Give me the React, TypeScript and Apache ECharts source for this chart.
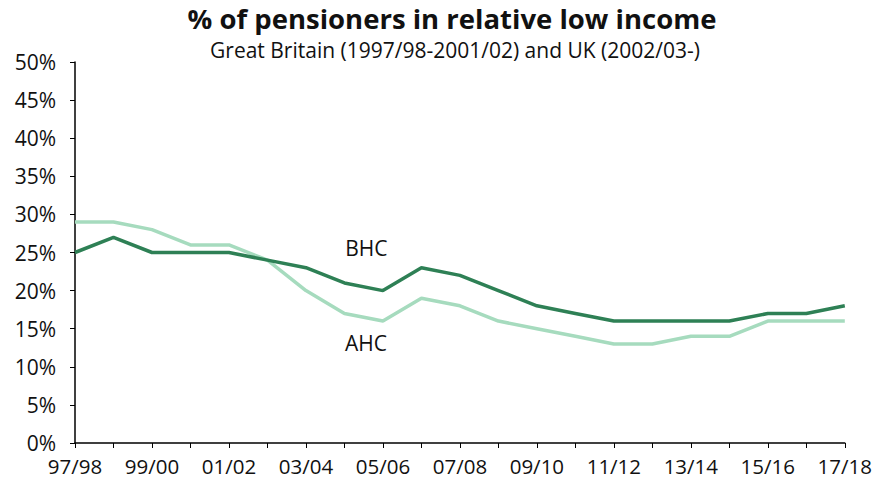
import React, { useEffect, useRef } from "react";
import * as echarts from "echarts";

const categories = [
  "97/98", "98/99", "99/00", "00/01", "01/02", "02/03", "03/04", "04/05", "05/06", "06/07",
  "07/08", "08/09", "09/10", "10/11", "11/12", "12/13", "13/14", "14/15", "15/16", "16/17", "17/18",
];
const bhc = [25, 27, 25, 25, 25, 24, 23, 21, 20, 23, 22, 20, 18, 17, 16, 16, 16, 16, 17, 17, 18];
const ahc = [29, 29, 28, 26, 26, 24, 20, 17, 16, 19, 18, 16, 15, 14, 13, 13, 14, 14, 16, 16, 16];
const yTicks = [0, 5, 10, 15, 20, 25, 30, 35, 40, 45, 50];

const FONT = "'Open Sans', 'Noto Sans', sans-serif";

export default function App() {
  const ref = useRef<HTMLDivElement>(null);
  useEffect(() => {
    if (!ref.current) return;
    const chart = echarts.init(ref.current, null, { renderer: "svg" });
    chart.setOption({
      animation: false,
      backgroundColor: "#ffffff",
      textStyle: { fontFamily: FONT },
      title: [
        {
          text: "% of pensioners in relative low income",
          left: 452,
          textAlign: "center",
          top: 0,
          padding: 0,
          textStyle: { fontFamily: FONT, fontSize: 27.5, fontWeight: "bold", color: "#111", lineHeight: 36 },
        },
        {
          text: "Great Britain (1997/98-2001/02) and UK (2002/03-)",
          left: 455,
          textAlign: "center",
          top: 38,
          padding: 0,
          textStyle: { fontFamily: FONT, fontSize: 21, fontWeight: "normal", color: "#111", lineHeight: 24 },
        },
      ],
      grid: { left: 75, right: 29, top: 62, bottom: 37, containLabel: false },
      xAxis: {
        type: "category",
        data: categories,
        boundaryGap: false,
        axisLine: { lineStyle: { color: "#000", width: 1.5 } },
        axisTick: { show: true, length: 5, lineStyle: { color: "#000" }, interval: 0 },
        axisLabel: { interval: 1, fontSize: 20.5, color: "#111", margin: 12, fontFamily: FONT },
        splitLine: { show: false },
      },
      yAxis: {
        type: "value",
        min: yTicks[0],
        max: yTicks[yTicks.length - 1],
        interval: 5,
        axisLine: { show: true, lineStyle: { color: "#000", width: 1.5 } },
        axisTick: { show: true, length: 5, lineStyle: { color: "#000" } },
        axisLabel: { fontSize: 21, color: "#111", margin: 19, formatter: "{value}%", fontFamily: FONT },
        splitLine: { show: false },
      },
      series: [
        {
          name: "AHC",
          type: "line",
          data: ahc,
          symbol: "none",
          lineStyle: { color: "#a6dbbe", width: 3.5 },
          itemStyle: { color: "#a6dbbe" },
        },
        {
          name: "BHC",
          type: "line",
          data: bhc,
          symbol: "none",
          lineStyle: { color: "#2e8055", width: 3.5 },
          itemStyle: { color: "#2e8055" },
        },
      ],
    });
    const pB = chart.convertToPixel({ seriesIndex: 1 }, [7, bhc[7]]) as number[];
    const pA = chart.convertToPixel({ seriesIndex: 0 }, [8, ahc[8]]) as number[];
    chart.setOption({
      graphic: [
        {
          type: "text",
          x: pB[0] + 22,
          y: pB[1] - 35,
          style: { text: "BHC", fontSize: 21, fill: "#111", fontFamily: FONT, align: "center", verticalAlign: "middle" },
        },
        {
          type: "text",
          x: pA[0] - 17,
          y: pA[1] + 22,
          style: { text: "AHC", fontSize: 21, fill: "#111", fontFamily: FONT, align: "center", verticalAlign: "middle" },
        },
      ],
    });
    return () => chart.dispose();
  }, []);
  return (
    <div
      ref={ref}
      style={{ position: "fixed", left: 0, top: 0, width: 875, height: 480, background: "#fff" }}
    />
  );
}
